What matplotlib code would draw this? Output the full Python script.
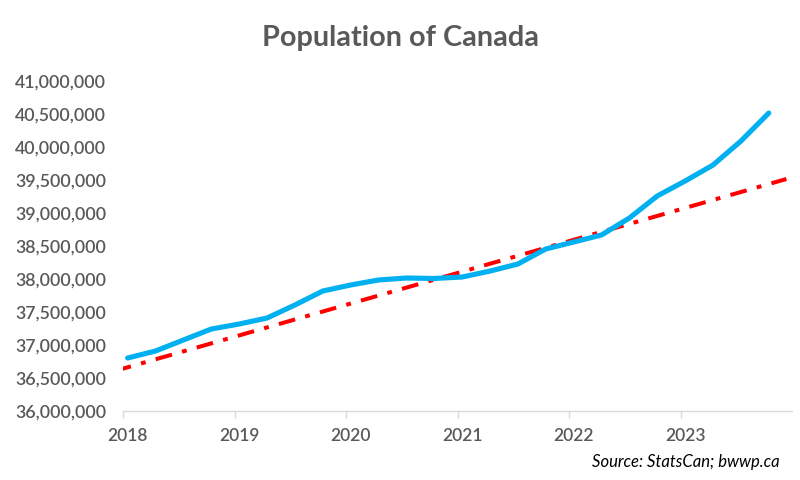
import matplotlib
matplotlib.use("Agg")
import matplotlib.pyplot as plt
from matplotlib.ticker import FuncFormatter, FixedLocator

# Quarterly population estimates (Jan/Apr/Jul/Oct), 2018 Q1 .. 2023 Q4
quarters = ["2018-01", "2018-04", "2018-07", "2018-10",
            "2019-01", "2019-04", "2019-07", "2019-10",
            "2020-01", "2020-04", "2020-07", "2020-10",
            "2021-01", "2021-04", "2021-07", "2021-10",
            "2022-01", "2022-04", "2022-07", "2022-10",
            "2023-01", "2023-04", "2023-07", "2023-10"]
population = [36803000, 36909000, 37076000, 37242000,
              37318000, 37409000, 37606000, 37818000,
              37909000, 37985000, 38015000, 38008000,
              38030000, 38120000, 38227000, 38455000,
              38560000, 38667000, 38924000, 39258000,
              39485000, 39727000, 40090000, 40515000]

# Linear trend line endpoints (months from Jan 2018, value)
trend_months = [-0.9, 71.4]
trend_values = [36606000, 39515000]

year_labels = ["2018", "2019", "2020", "2021", "2022", "2023"]

TEXT = "#595959"
plt.rcParams['font.family'] = ['Lato', 'DejaVu Sans']

def month_pos(q):
    y, m = q.split("-")
    return (int(y) - 2018) * 12 + (int(m) - 1) + 0.5

xs = [month_pos(q) for q in quarters]

fig = plt.figure(figsize=(8, 4.8), dpi=100)
ax = fig.add_axes([123 / 800, 1 - 411 / 480, (792 - 123) / 800, (411 - 81) / 480])

ax.plot(trend_months, trend_values, color="#FF0000", lw=2.9,
        dashes=(4.2, 2.6, 1.2, 2.6), solid_capstyle="butt", dash_capstyle="butt", zorder=2)
ax.plot(xs, population, color="#00B0F0", lw=3.7, solid_capstyle="round",
        solid_joinstyle="round", zorder=3)

ax.set_xlim(0, 72)
ax.set_ylim(36000000, 41000000)
ax.set_yticks(range(36000000, 41000001, 500000))
ax.yaxis.set_major_formatter(FuncFormatter(lambda v, p: f"{int(v):,}"))

ax.xaxis.set_major_locator(FixedLocator([i * 12 for i in range(6)]))
ax.xaxis.set_major_formatter(FuncFormatter(lambda v, p: ""))
ax.xaxis.set_minor_locator(FixedLocator([i * 12 + 0.5 for i in range(len(year_labels))]))
ax.set_xticklabels(year_labels, minor=True)

for s in ["top", "right", "left"]:
    ax.spines[s].set_visible(False)
ax.spines["bottom"].set_color("#D9D9D9")
ax.spines["bottom"].set_linewidth(1.0)

ax.tick_params(axis="y", length=0, pad=12, labelsize=12.8, labelcolor=TEXT)
ax.tick_params(axis="x", which="major", length=5, width=1.0, color="#D9D9D9", direction="out")
ax.tick_params(axis="x", which="minor", length=0, pad=12, labelsize=12.5, labelcolor=TEXT)
for lbl in ax.get_yticklabels() + ax.get_xticklabels(minor=True):
    lbl.set_fontweight("semibold")

fig.text(0.5, 1 - 38 / 480, "Population of Canada", ha="center", va="center",
         fontsize=20.8, fontweight="bold", color=TEXT)
fig.text(780 / 800, 1 - 462 / 480, "Source: StatsCan; bwwp.ca", ha="right", va="center",
         fontsize=12, style="italic", color="#000000")

fig.savefig("out.png", dpi=100)
